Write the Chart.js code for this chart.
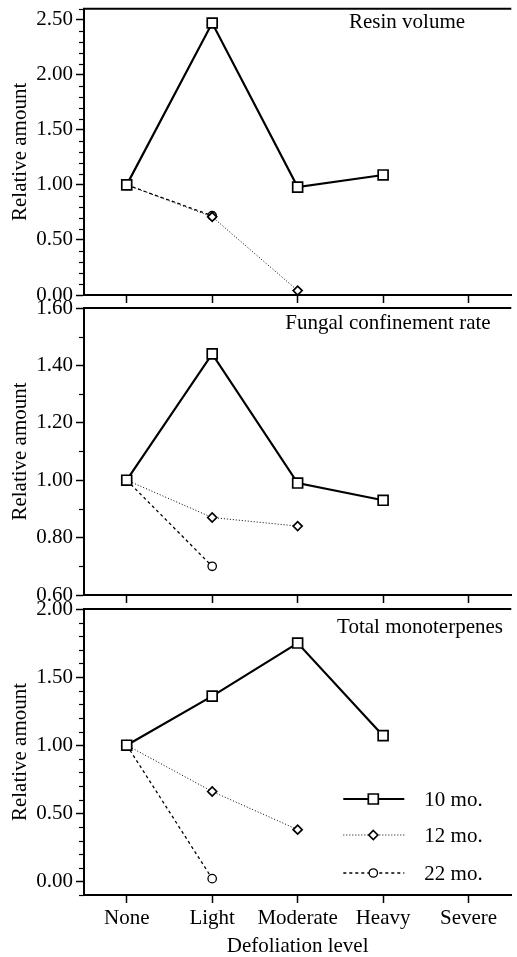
<!DOCTYPE html>
<html>
<head>
<meta charset="utf-8">
<script src="https://cdn.jsdelivr.net/npm/chart.js@4.4.1/dist/chart.umd.min.js"></script>
<style>
  html, body { margin: 0; padding: 0; background: #fff; overflow: hidden; }
  #wrap { position: relative; width: 517px; height: 957px; overflow: hidden; }
  .panel { position: absolute; left: 0; }
</style>
</head>
<body>
<div id="wrap">
  <canvas id="resinChart" class="panel" width="520" height="310" style="top:0px"></canvas>
  <canvas id="fungalChart" class="panel" width="520" height="314" style="top:294px"></canvas>
  <canvas id="monoChart" class="panel" width="520" height="363" style="top:594px"></canvas>
</div>
<script>
const categories = ['None', 'Light', 'Moderate', 'Heavy', 'Severe'];
const seriesNames = ['10 mo.', '12 mo.', '22 mo.'];

// Resin volume
const resin10 = [1.00, 2.47, 0.98, 1.09, null];
const resin12 = [1.00, 0.71, 0.04, null, null];
const resin22 = [1.00, 0.72, null, null, null];
const resinTicks = [0, 0.5, 1.0, 1.5, 2.0, 2.5];

// Fungal confinement rate
const fungal10 = [1.00, 1.44, 0.99, 0.93, null];
const fungal12 = [1.00, 0.87, 0.84, null, null];
const fungal22 = [1.00, 0.70, null, null, null];
const fungalTicks = [0.6, 0.8, 1.0, 1.2, 1.4, 1.6];

// Total monoterpenes
const mono10 = [1.00, 1.36, 1.75, 1.07, null];
const mono12 = [1.00, 0.66, 0.38, null, null];
const mono22 = [1.00, 0.02, null, null, null];
const monoTicks = [0, 0.5, 1.0, 1.5, 2.0];

const serif = "'Liberation Serif', 'Times New Roman', serif";
Chart.defaults.font.family = serif;
Chart.defaults.font.size = 21;
Chart.defaults.color = '#000';

const lineStyles = [
  { borderColor: '#000', borderWidth: 2.2, pointStyle: 'rect', pointRadius: 7, pointBorderWidth: 1.7, pointBackgroundColor: '#fff', pointBorderColor: '#000' },
  { borderColor: '#000', borderWidth: 1, borderDash: [1, 2], pointStyle: 'rectRot', pointRadius: 4.5, pointBorderWidth: 1.7, pointBackgroundColor: '#fff', pointBorderColor: '#000' },
  { borderColor: '#000', borderWidth: 1.3, borderDash: [3, 3], pointStyle: 'circle', pointRadius: 4.2, pointBorderWidth: 1.3, pointBackgroundColor: '#fff', pointBorderColor: '#000' }
];

function drawMarker(ctx, style, x, y) {
  ctx.save();
  ctx.fillStyle = '#fff';
  ctx.strokeStyle = '#000';
  ctx.setLineDash([]);
  ctx.beginPath();
  if (style === 'rect') {
    ctx.lineWidth = 1.7;
    ctx.rect(x - 5, y - 5, 10, 10);
  } else if (style === 'rectRot') {
    ctx.lineWidth = 1.7;
    ctx.moveTo(x, y - 4.5); ctx.lineTo(x + 4.5, y); ctx.lineTo(x, y + 4.5); ctx.lineTo(x - 4.5, y); ctx.closePath();
  } else {
    ctx.lineWidth = 1.3;
    ctx.arc(x, y, 4.2, 0, Math.PI * 2);
  }
  ctx.fill();
  ctx.stroke();
  ctx.restore();
}

const decor = {
  id: 'decor',
  beforeDatasetsDraw(chart, args, opts) {
    const { ctx, chartArea } = chart;
    const y = chart.scales.y;
    ctx.save();
    // top frame line
    ctx.strokeStyle = '#000';
    ctx.lineWidth = 2;
    ctx.beginPath();
    ctx.moveTo(chartArea.left - 1, chartArea.top);
    ctx.lineTo(chartArea.right, chartArea.top);
    ctx.stroke();
    // minor ticks every 0.1
    ctx.lineWidth = 1.2;
    for (let v = Math.round(y.min * 10); v <= Math.round(y.max * 10); v++) {
      const val = v / 10;
      if (opts.majors.some(m => Math.abs(m - val) < 1e-6)) continue;
      const py = Math.round(y.getPixelForValue(val)) + 0.5;
      ctx.beginPath();
      ctx.moveTo(chartArea.left - 5, py);
      ctx.lineTo(chartArea.left, py);
      ctx.stroke();
    }
    // panel title
    ctx.fillStyle = '#000';
    ctx.font = '21px ' + serif;
    ctx.textAlign = 'center';
    ctx.textBaseline = 'alphabetic';
    ctx.fillText(opts.title, opts.titleX, chartArea.top + opts.titleDy);
    ctx.restore();
  },
  afterDatasetsDraw(chart, args, opts) {
    if (!opts.legend) return;
    const { ctx, chartArea } = chart;
    const rows = [chartArea.bottom - 96, chartArea.bottom - 60, chartArea.bottom - 22];
    const x0 = chartArea.right - 168, x1 = chartArea.right - 107, xm = chartArea.right - 138;
    rows.forEach((ry, i) => {
      const st = lineStyles[i];
      ctx.save();
      ctx.strokeStyle = '#000';
      ctx.lineWidth = st.borderWidth;
      ctx.setLineDash(st.borderDash || []);
      ctx.beginPath();
      ctx.moveTo(x0, ry);
      ctx.lineTo(x1, ry);
      ctx.stroke();
      ctx.restore();
      drawMarker(ctx, st.pointStyle, xm, ry);
      ctx.save();
      ctx.fillStyle = '#000';
      ctx.font = '21px ' + serif;
      ctx.textAlign = 'left';
      ctx.textBaseline = 'middle';
      ctx.fillText(seriesNames[i], chartArea.right - 87, ry + 1);
      ctx.restore();
    });
  }
};

function buildChart(id, p) {
  return new Chart(document.getElementById(id), {
    type: 'line',
    data: {
      labels: categories,
      datasets: p.series.map((d, i) => Object.assign({ label: seriesNames[i], data: d, fill: false, tension: 0 }, lineStyles[i]))
    },
    options: {
      responsive: false,
      animation: false,
      layout: { padding: { top: p.padTop, left: 0, right: 0, bottom: 0 } },
      plugins: {
        legend: { display: false },
        tooltip: { enabled: false },
        decor: { majors: p.ticks, title: p.title, titleX: p.titleX, titleDy: p.titleDy, legend: p.legend }
      },
      scales: {
        x: {
          offset: true,
          grid: { offset: false, drawOnChartArea: false, drawTicks: true, tickLength: 8, tickWidth: 1.5, tickColor: '#000' },
          border: { color: '#000', width: 2 },
          ticks: { display: p.showX, padding: 3, maxRotation: 0, autoSkip: false },
          title: { display: p.showX, text: 'Defoliation level', font: { size: 21, lineHeight: 1 }, padding: { top: 0, bottom: 0 } },
          afterFit: s => { s.height = p.xHeight; s.paddingLeft = 0; s.paddingRight = 0; }
        },
        y: {
          min: p.min,
          max: p.max,
          afterBuildTicks: s => { s.ticks = p.ticks.map(v => ({ value: v })); },
          ticks: { padding: 3, callback: v => Number(v).toFixed(2) },
          grid: { drawOnChartArea: false, drawTicks: true, tickLength: 8, tickWidth: 1.5, tickColor: '#000' },
          border: { color: '#000', width: 2 },
          title: { display: true, text: 'Relative amount', font: { size: 21 }, padding: { top: 8, bottom: 0 } },
          afterFit: s => { s.width = 84; s.paddingTop = 0; s.paddingBottom = 0; }
        }
      }
    },
    plugins: [decor]
  });
}

buildChart('resinChart', {
  series: [resin10, resin12, resin22], ticks: resinTicks, min: 0, max: 2.6,
  padTop: 7, xHeight: 15, showX: false,
  title: 'Resin volume', titleX: 407, titleDy: 19
});
buildChart('fungalChart', {
  series: [fungal10, fungal12, fungal22], ticks: fungalTicks, min: 0.6, max: 1.6,
  padTop: 14, xHeight: 13, showX: false,
  title: 'Fungal confinement rate', titleX: 388, titleDy: 21
});
buildChart('monoChart', {
  series: [mono10, mono12, mono22], ticks: monoTicks, min: -0.1, max: 2.0,
  padTop: 15, xHeight: 62, showX: true,
  title: 'Total monoterpenes', titleX: 420, titleDy: 24, legend: true
});
</script>
</body>
</html>
